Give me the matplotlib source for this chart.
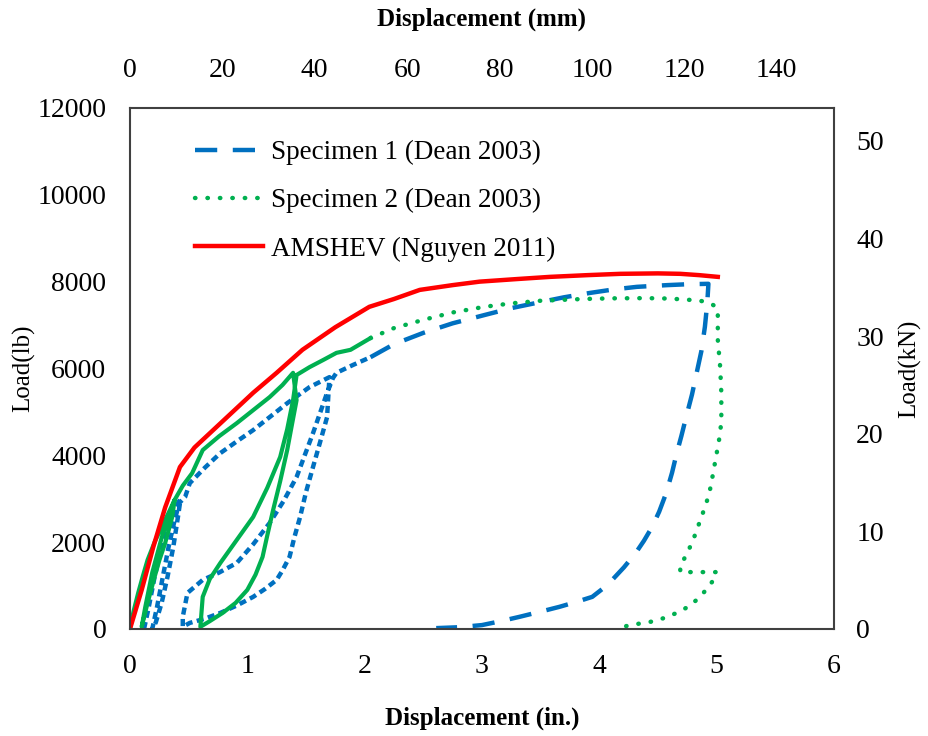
import numpy as np
import matplotlib.pyplot as plt

plt.rcParams['font.family'] = ['Liberation Serif', 'DejaVu Serif']

# Specimen 1 (Dean 2003), cyclic part (dense data -> short dashes)
s1_loop_x = [0.12, 0.16, 0.21, 0.27, 0.33, 0.38, 0.42, 0.43,
             0.41, 0.37, 0.32, 0.27, 0.22, 0.19,
             0.23, 0.28, 0.33, 0.38, 0.42,
             0.47, 0.51, 0.64, 0.77, 0.91, 1.05, 1.20, 1.34, 1.53, 1.70,
             1.68, 1.62, 1.56, 1.50, 1.45, 1.40, 1.36, 1.30, 1.25, 1.15, 1.05, 0.91, 0.77, 0.63, 0.51, 0.45,
             0.45, 0.49, 0.62, 0.76, 0.91, 1.05, 1.19, 1.31, 1.42, 1.56, 1.68, 1.73,
             1.76, 1.90, 2.05]
s1_loop_y = [0, 500, 1200, 1900, 2400, 2750, 2950, 2970,
             2600, 1900, 1200, 600, 150, 0,
             500, 1200, 1900, 2500, 2900,
             3040, 3360, 3720, 4050, 4320, 4580, 4900, 5200, 5570, 5800,
             4880, 4300, 3730, 3150, 2580, 2100, 1660, 1350, 1130, 920, 740, 540, 370, 230, 140, 50,
             280, 830, 1130, 1300, 1520, 1950, 2440, 2950, 3500, 4510, 5440, 5780,
             5900, 6080, 6260]
# Specimen 1, monotonic part + final unloading
s1_tail_x = [2.05, 2.25, 2.5, 2.75, 3.02, 3.25, 3.5, 3.7, 3.92, 4.12, 4.32, 4.58, 4.75, 4.93,
             4.92, 4.90, 4.87, 4.83, 4.79, 4.74, 4.70, 4.66, 4.62, 4.57, 4.51, 4.45, 4.38, 4.31,
             4.21, 4.11, 4.03, 3.94, 3.80, 3.66, 3.50, 3.32, 3.16, 3.00, 2.80, 2.61]
s1_tail_y = [6260, 6560, 6820, 7040, 7230, 7390, 7530, 7640, 7740, 7820, 7880, 7920, 7940, 7950,
             7500, 6960, 6400, 5900, 5400, 4880, 4450, 4050, 3600, 3130, 2700, 2350, 2030, 1750,
             1420, 1130, 930, 740, 620, 510, 400, 280, 180, 90, 40, 20]

# Specimen 2 (Dean 2003)
s2_loop_x = [0, 0.03, 0.07, 0.11, 0.15, 0.21, 0.27, 0.33, 0.38,
             0.36, 0.33, 0.30, 0.25, 0.21, 0.15, 0.10,
             0.13, 0.19, 0.27, 0.34, 0.38,
             0.45, 0.53, 0.62, 0.76, 0.91, 1.05, 1.19, 1.30, 1.39,
             1.42, 1.38, 1.34, 1.28, 1.22, 1.17, 1.13, 1.07, 1.0, 0.90, 0.79, 0.68, 0.6,
             0.62, 0.68, 0.77, 0.91, 1.05, 1.17, 1.28, 1.34, 1.39, 1.42,
             1.53, 1.65, 1.76, 1.88, 2.05]
s2_loop_y = [0, 400, 830, 1220, 1590, 2000, 2350, 2680, 2970,
             2580, 2280, 1980, 1580, 1200, 600, 50,
             500, 1300, 2100, 2650, 2970,
             3300, 3590, 4120, 4440, 4740, 5040, 5340, 5620, 5900,
             5270, 4700, 4120, 3400, 2740, 2150, 1660, 1250, 900, 600, 370, 180, 50,
             740, 1150, 1520, 2050, 2580, 3250, 3960, 4600, 5270, 5850,
             6030, 6200, 6360, 6430, 6700]
s2_tail_x = [2.05, 2.25, 2.5, 2.75, 3.02, 3.25, 3.5, 3.86, 4.1, 4.4, 4.6, 4.77, 4.88, 4.94, 4.99,
             5.01, 5.01, 5.03, 5.04, 5.04, 5.03, 5.01, 4.99, 4.97, 4.95, 4.92, 4.88, 4.84, 4.80,
             4.75, 4.71, 4.69, 4.69, 5.0, 4.96, 4.90, 4.83, 4.75, 4.66, 4.55, 4.43, 4.26, 4.17]
s2_tail_y = [6700, 6930, 7120, 7290, 7420, 7500, 7560, 7600, 7615, 7620, 7610, 7580, 7550, 7510, 7430,
             7350, 6660, 6040, 5440, 4820, 4500, 4190, 3890, 3590, 3280, 2970, 2650, 2350, 2050,
             1750, 1550, 1470, 1310, 1310, 1080, 870, 670, 500, 370, 250, 160, 90, 20]

# AMSHEV (Nguyen 2011)
am_x = [0, 0.1, 0.2, 0.3, 0.426, 0.55, 0.8, 1.05, 1.25, 1.47, 1.75, 2.04, 2.25, 2.47,
        2.75, 2.98, 3.3, 3.58, 3.9, 4.18, 4.5, 4.69, 4.85, 5.01]
am_y = [0, 900, 1900, 2800, 3730, 4180, 4810, 5440, 5900, 6430, 6950, 7420, 7600, 7810,
        7920, 8000, 8060, 8110, 8150, 8180, 8190, 8180, 8150, 8110]

blue = '#0070C0'
green = '#00B050'
red = '#FF0000'

fig = plt.figure(figsize=(9.29, 7.36), dpi=100)
ax = fig.add_axes([0.1399, 0.1454, 0.7578, 0.7079])

ax.plot(s1_loop_x, s1_loop_y, color=blue, lw=3.2, dashes=(1.6, 1.0))
l1, = ax.plot(s1_tail_x, s1_tail_y, color=blue, lw=3.2, dashes=(5, 3.5),
              label='Specimen 1 (Dean 2003)')
ax.plot(s2_loop_x, s2_loop_y, color=green, lw=3)
l2, = ax.plot(s2_tail_x, s2_tail_y, color=green, lw=3.2, dashes=(0.1, 2.7),
              dash_capstyle='round', label='Specimen 2 (Dean 2003)')
l3, = ax.plot(am_x, am_y, color=red, lw=3.2, label='AMSHEV (Nguyen 2011)')

ax.set_xlim(0, 6)
ax.set_ylim(0, 12000)
ax.set_xticks(range(0, 7))
ax.set_yticks(range(0, 12001, 2000))
ax.tick_params(length=0, labelsize=20, pad=18)
ax.tick_params(axis='y', pad=17)
for s in ax.spines.values():
    s.set_color('#404040')
    s.set_linewidth(1.5)

ax.set_xlabel('Displacement (in.)', fontsize=18, fontweight='bold', labelpad=20)
ax.set_ylabel('Load(lb)', fontsize=18)
ax.yaxis.set_label_coords(-0.135, 0.5)

secx = ax.secondary_xaxis('top', functions=(lambda v: v * 25.4, lambda v: v / 25.4))
secx.set_xticks(range(0, 141, 20))
secx.tick_params(length=0, labelsize=20, pad=18)
secx.spines['top'].set_visible(False)
secx.set_xlabel('Displacement (mm)', fontsize=18, fontweight='bold', labelpad=23)

secy = ax.secondary_yaxis('right', functions=(lambda v: v * 0.0044482, lambda v: v / 0.0044482))
secy.set_yticks(range(0, 51, 10))
secy.tick_params(length=0, labelsize=20, pad=16)
secy.spines['right'].set_visible(False)
secy.set_ylabel('Load(kN)', fontsize=18, labelpad=10)

ax.legend(handles=[l1, l2, l3], loc='upper left', bbox_to_anchor=(0.058, 0.985),
          frameon=False, fontsize=19.5, handlelength=2.5, labelspacing=0.85,
          handletextpad=0.3)

fig.savefig('out.png', dpi=100)
